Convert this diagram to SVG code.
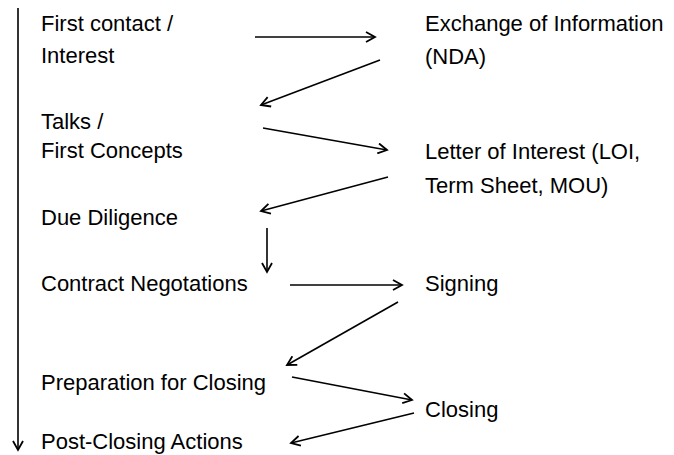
<svg xmlns="http://www.w3.org/2000/svg" width="674" height="455" viewBox="0 0 674 455">
<style>
text{font-family:"Liberation Sans",Arial,sans-serif;font-size:22px;fill:#000}
.c line{stroke:#000;stroke-width:1.6;marker-end:url(#a)}
</style>
<defs>
<marker id="a" markerUnits="userSpaceOnUse" markerWidth="12" markerHeight="12" viewBox="0 0 12 12" refX="10" refY="6" orient="auto">
<path d="M1,1 L10,6 L1,11" fill="none" stroke="#000" stroke-width="1.8"/>
</marker>
</defs>
<rect width="674" height="455" fill="#fff"/>
<g id="n1"><text x="41" y="31">First contact /</text><text x="41" y="63">Interest</text></g>
<g id="n2"><text x="425" y="31">Exchange of Information</text><text x="425" y="64">(NDA)</text></g>
<g id="n3"><text x="41" y="129">Talks /</text><text x="41" y="158">First Concepts</text></g>
<g id="n4"><text x="425" y="159">Letter of Interest (LOI,</text><text x="425" y="193">Term Sheet, MOU)</text></g>
<g id="n5"><text x="41" y="225">Due Diligence</text></g>
<g id="n6"><text x="41" y="291">Contract Negotations</text></g>
<g id="n7"><text x="425" y="291">Signing</text></g>
<g id="n8"><text x="41" y="390">Preparation for Closing</text></g>
<g id="n9"><text x="425" y="417">Closing</text></g>
<g id="n10"><text x="41" y="449">Post-Closing Actions</text></g>
<g id="connectors" class="c">
<line x1="18" y1="8" x2="18" y2="450"/>
<line x1="255" y1="37" x2="375" y2="37"/>
<line x1="380" y1="60" x2="261" y2="105"/>
<line x1="263" y1="128" x2="387" y2="150"/>
<line x1="388" y1="177" x2="261" y2="211"/>
<line x1="267" y1="228" x2="267" y2="272"/>
<line x1="290" y1="285" x2="402" y2="285"/>
<line x1="398" y1="302" x2="287" y2="365"/>
<line x1="292" y1="377" x2="412" y2="400"/>
<line x1="414" y1="413" x2="291" y2="443"/>
</g>
</svg>
